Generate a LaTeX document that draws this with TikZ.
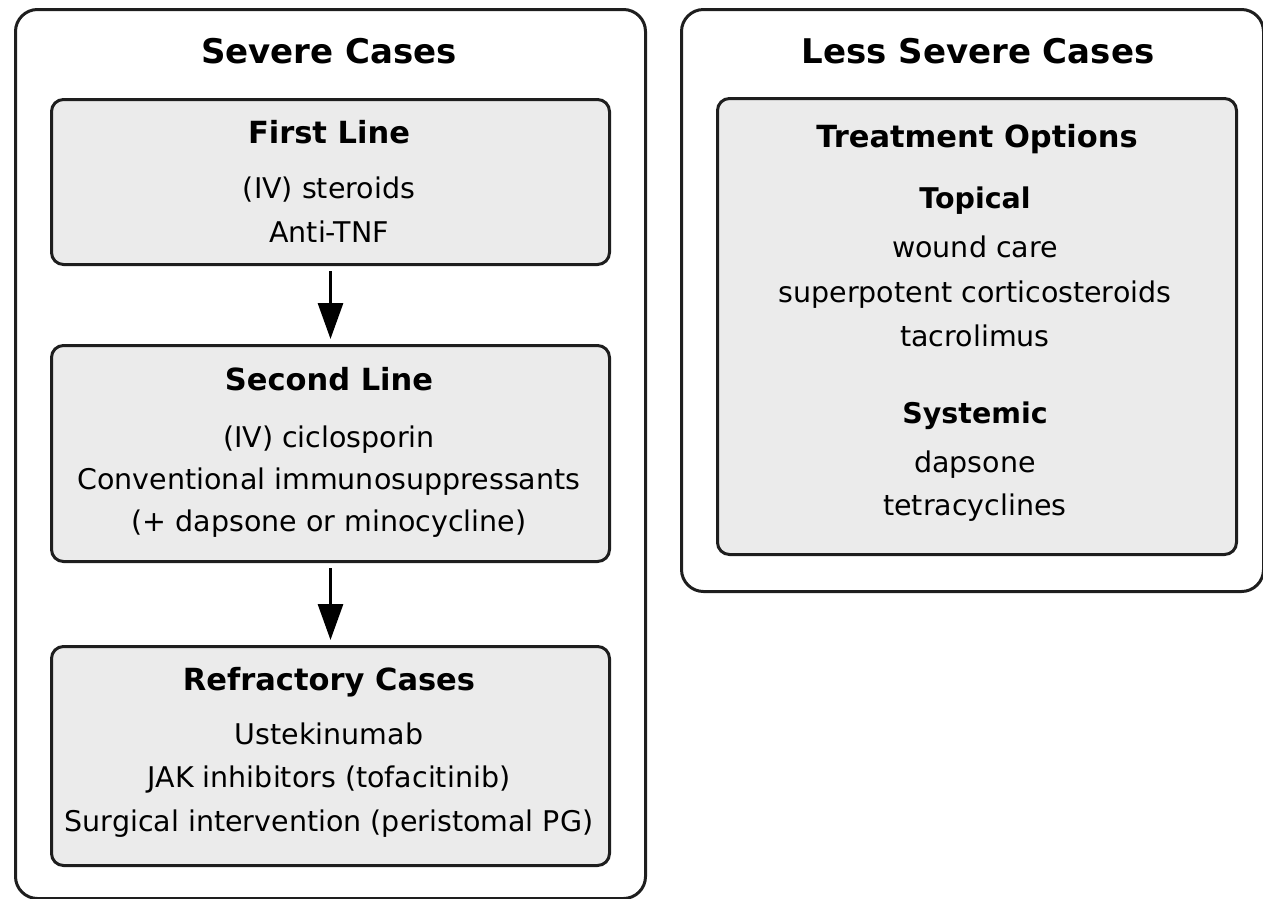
\documentclass[tikz,border=0pt]{standalone}
\usepackage{fontspec}
\setmainfont{DejaVu Sans}
\usetikzlibrary{arrows.meta}
\definecolor{boxgray}{RGB}{235,235,235}
\definecolor{edge}{RGB}{30,30,30}
\begin{document}
\begin{tikzpicture}[x=1pt,y=-1pt,
  outer/.style={draw=edge, line width=3pt, rounded corners=22pt, inner sep=0pt, anchor=north west},
  inner/.style={draw=edge, fill=boxgray, line width=3pt, rounded corners=12pt, inner sep=0pt, anchor=north west},
  ttl/.style={font=\fontsize{34}{40}\selectfont\bfseries, anchor=base, inner sep=0pt},
  hd/.style={font=\fontsize{30.5}{36}\selectfont\bfseries, anchor=base, inner sep=0pt},
  sub/.style={font=\fontsize{28.5}{34}\selectfont\bfseries, anchor=base, inner sep=0pt},
  txt/.style={font=\fontsize{28.5}{34}\selectfont, anchor=base, inner sep=0pt},
  flow/.style={-{Triangle[length=36pt,width=25pt]}, line width=3pt, draw=black, shorten <=5pt, shorten >=5pt}
]
\useasboundingbox (0,0) rectangle (1263,898);
% outer containers
\node[outer, minimum width=630pt, minimum height=889pt] (severe) at (14,8) {};
\node[outer, minimum width=582pt, minimum height=582pt] (less) at (680,8) {};
% inner boxes
\node[inner, minimum width=558pt, minimum height=165pt] (first) at (50,98) {};
\node[inner, minimum width=558pt, minimum height=216pt] (second) at (50,344) {};
\node[inner, minimum width=558pt, minimum height=219pt] (refr) at (50,645) {};
\node[inner, minimum width=519pt, minimum height=456pt] (treat) at (716,97) {};
% arrows
\draw[flow] (first.south) -- (second.north);
\draw[flow] (second.south) -- (refr.north);
% texts left
\node[ttl] (t1) at (329,63) {Severe Cases};
\node[hd] (f0) at (329,143) {First Line};
\node[txt] (f1) at (329,198) {(IV) steroids};
\node[txt] (f2) at (329,242) {Anti-TNF};
\node[hd] (s0) at (329,390) {Second Line};
\node[txt] (s1) at (329,447) {(IV) ciclosporin};
\node[txt] (s2) at (329,489) {Conventional immunosuppressants};
\node[txt] (s3) at (329,531) {(+ dapsone or minocycline)};
\node[hd] (r0) at (329,690) {Refractory Cases};
\node[txt] (r1) at (329,744) {Ustekinumab};
\node[txt] (r2) at (329,787) {JAK inhibitors (tofacitinib)};
\node[txt] (r3) at (329,831) {Surgical intervention (peristomal PG)};
% texts right
\node[ttl] (t2) at (978,63) {Less Severe Cases};
\node[hd] (o0) at (977,147) {Treatment Options};
\node[sub] (p0) at (975,208) {Topical};
\node[txt] (p1) at (975,257) {wound care};
\node[txt] (p2) at (975,302) {superpotent corticosteroids};
\node[txt] (p3) at (975,346) {tacrolimus};
\node[sub] (q0) at (975,423) {Systemic};
\node[txt] (q1) at (975,472) {dapsone};
\node[txt] (q2) at (975,515) {tetracyclines};
\end{tikzpicture}
\end{document}
